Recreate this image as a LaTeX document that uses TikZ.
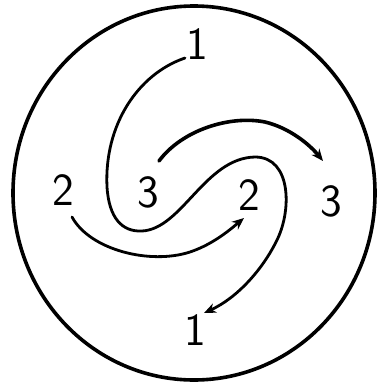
\documentclass[tikz,border=0pt]{standalone}
\usetikzlibrary{arrows.meta}

\begin{document}
\begin{tikzpicture}[
  x=1pt, y=-1pt,
  num/.style={font=\sffamily\fontsize{46}{46}\selectfont, inner sep=0pt},
  swirl/.style={line width=2.8pt, line cap=round},
  ar/.style={swirl, -{Stealth[length=12pt, width=10pt]}}]
\useasboundingbox (0,0) rectangle (380,383);

% --- outer rim
\draw[line width=3.6pt] (194,193) ellipse [x radius=181, y radius=187];

% --- labels
\node[num] (onetop) at (197,44) {1};
\node[num] (twoleft) at (63,190) {2};
\node[num] (threein) at (148,192) {3};
\node[num] (twoin) at (249,195) {2};
\node[num] (threeout) at (331,201) {3};
\node[num] (onebot) at (195,330) {1};

% --- curve ends
\coordinate (as) at (185,58);
\coordinate (ae) at (204,313);
\coordinate (bs) at (159,161);
\coordinate (be) at (323,161);
\coordinate (cs) at (72,217);
\coordinate (ce) at (244,218);

% 1 -> 1: long S-shaped swirl
\draw[ar] (as) .. controls (138,74) and (104,125) .. (107,187)
  .. controls (109,218) and (122,232) .. (142,231)
  .. controls (182,229) and (205,158) .. (255,157)
  .. controls (292,157) and (292,212) .. (276,242)
  .. controls (262,270) and (237,298) .. (ae);
% 3 -> 3
\draw[ar, line width=3.6pt] (bs) .. controls (182,130) and (230,115) .. (265,122)
  .. controls (290,128) and (310,145) .. (be);
% 2 -> 2
\draw[ar] (cs) .. controls (90,250) and (150,265) .. (190,252)
  .. controls (214,244) and (232,228) .. (ce);
\end{tikzpicture}
\end{document}
